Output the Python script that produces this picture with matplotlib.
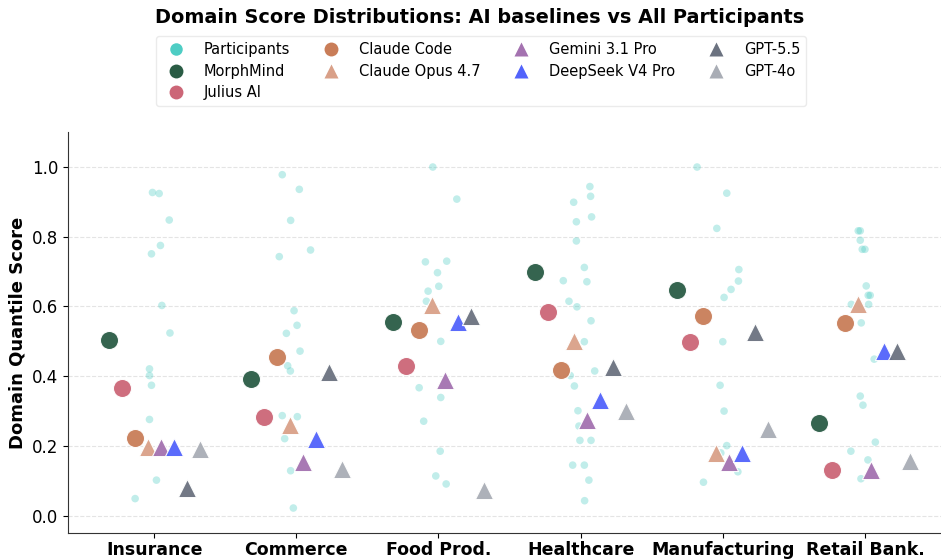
import matplotlib
matplotlib.use("Agg")
import matplotlib.pyplot as plt
from matplotlib.lines import Line2D

# ---------------- data ----------------
categories = ["Insurance", "Commerce", "Food Prod.", "Healthcare", "Manufacturing", "Retail Bank."]

model_names = ["MorphMind", "Julius AI", "Claude Code", "Claude Opus 4.7",
               "Gemini 3.1 Pro", "DeepSeek V4 Pro", "GPT-5.5", "GPT-4o"]

morphmind   = [0.504, 0.393, 0.556, 0.699, 0.648, 0.265]
julius_ai   = [0.365, 0.282, 0.429, 0.585, 0.499, 0.132]
claude_code = [0.223, 0.454, 0.533, 0.417, 0.574, 0.553]
claude_opus = [0.198, 0.261, 0.604, 0.501, 0.179, 0.606]
gemini      = [0.198, 0.153, 0.390, 0.274, 0.153, 0.132]
deepseek    = [0.198, 0.219, 0.556, 0.331, 0.179, 0.473]
gpt55       = [0.079, 0.413, 0.574, 0.426, 0.526, 0.473]
gpt4o       = [0.192, 0.134, 0.073, 0.299, 0.248, 0.158]

# participant scores per domain and their horizontal jitter
p_insurance = [0.927, 0.924, 0.848, 0.775, 0.751, 0.603, 0.524, 0.421, 0.402, 0.374, 0.276, 0.102, 0.049]
j_insurance = [-0.012, 0.035, 0.106, 0.044, -0.019, 0.054, 0.111, -0.033, -0.033, -0.019, -0.033, 0.016, -0.134]

p_commerce = [0.978, 0.936, 0.847, 0.762, 0.743, 0.588, 0.546, 0.523, 0.472, 0.430, 0.415, 0.287, 0.284, 0.221, 0.129, 0.022]
j_commerce = [-0.099, 0.021, -0.040, 0.100, -0.120, -0.016, 0.005, -0.070, 0.026, -0.061, -0.042, -0.099, 0.007, -0.082, -0.040, -0.021]

p_food = [1.000, 0.908, 0.728, 0.730, 0.697, 0.658, 0.644, 0.615, 0.500, 0.367, 0.339, 0.271, 0.185, 0.114, 0.091]
j_food = [-0.040, 0.129, -0.092, 0.058, -0.007, 0.002, -0.073, -0.085, 0.016, -0.136, 0.016, -0.104, 0.012, -0.019, 0.054]

p_health = [0.944, 0.916, 0.899, 0.857, 0.843, 0.788, 0.712, 0.674, 0.671, 0.615, 0.599, 0.559,
            0.499, 0.415, 0.402, 0.372, 0.301, 0.257, 0.216, 0.216, 0.145, 0.145, 0.102, 0.043]
j_health = [0.065, 0.070, -0.049, 0.077, -0.030, -0.030, 0.026, -0.122, 0.044, -0.082, -0.026, 0.073,
            0.026, 0.099, -0.073, -0.044, -0.019, -0.012, -0.005, 0.073, -0.056, 0.026, 0.058, 0.028]

p_manuf = [1.000, 0.925, 0.824, 0.706, 0.673, 0.649, 0.626, 0.499, 0.374, 0.300, 0.201, 0.180, 0.126, 0.096]
j_manuf = [-0.181, 0.028, -0.042, 0.113, 0.110, 0.058, 0.009, 0.000, -0.019, 0.009, 0.028, -0.014, 0.106, -0.136]

p_retail = [0.817, 0.817, 0.790, 0.764, 0.764, 0.659, 0.632, 0.632, 0.606, 0.606, 0.553, 0.449,
            0.343, 0.317, 0.211, 0.185, 0.160, 0.106]
j_retail = [-0.047, -0.033, -0.033, -0.019, 0.000, 0.009, 0.023, 0.037, -0.096, 0.026, -0.026, 0.065,
            -0.033, -0.014, 0.073, -0.099, 0.021, -0.028]

participants = [p_insurance, p_commerce, p_food, p_health, p_manuf, p_retail]
jitters = [j_insurance, j_commerce, j_food, j_health, j_manuf, j_retail]
model_scores = [morphmind, julius_ai, claude_code, claude_opus, gemini, deepseek, gpt55, gpt4o]

# ---------------- styles ----------------
part_color = "#4ECDC4"
model_colors = ["#2A5C45", "#CC6677", "#C97D58", "#D9A088",
                "#A472B0", "#5263FB", "#6B7280", "#A9ADB5"]
model_markers = ["o", "o", "o", "^", "^", "^", "^", "^"]
offsets = [(i - 3.5) * 0.0914 for i in range(len(model_names))]

fig = plt.figure(figsize=(9.41, 5.6), dpi=100)
ax = fig.add_axes([0.0723, 0.048, 0.9277, 0.716])

for i, (vals, jit) in enumerate(zip(participants, jitters)):
    ax.scatter([i + j for j in jit], vals, s=30, color=part_color, alpha=0.35,
               edgecolors="none", zorder=2)

for m, (name, scores) in enumerate(zip(model_names, model_scores)):
    xs = [i + offsets[m] for i in range(len(categories))]
    ax.scatter(xs, scores, s=170, marker=model_markers[m], color=model_colors[m],
               edgecolors="white", linewidths=0.8, alpha=0.95, zorder=3 + m)

ax.set_xlim(-0.606, 5.535)
ax.set_ylim(-0.05, 1.1)
ax.set_xticks(range(len(categories)))
ax.set_xticklabels(categories, fontsize=12.5, fontweight="bold")
ax.tick_params(axis="x", pad=2.5)
ax.set_yticks([0.0, 0.2, 0.4, 0.6, 0.8, 1.0])
ax.set_yticklabels(["0.0", "0.2", "0.4", "0.6", "0.8", "1.0"], fontsize=12)
ax.set_ylabel("Domain Quantile Score", fontsize=13, fontweight="bold")
ax.yaxis.grid(True, linestyle="--", color="#E4E4E4", linewidth=0.8)
ax.set_axisbelow(True)
for s in ["top", "right"]:
    ax.spines[s].set_visible(False)
for s in ["left", "bottom"]:
    ax.spines[s].set_color("#333333")

handles = [Line2D([], [], linestyle="none", marker="o", markersize=9,
                  markerfacecolor=part_color, markeredgecolor="none", label="Participants")]
for m, name in enumerate(model_names):
    handles.append(Line2D([], [], linestyle="none", marker=model_markers[m], markersize=10,
                          markerfacecolor=model_colors[m], markeredgecolor="none", label=name))

fig.legend(handles=handles, loc="upper center", bbox_to_anchor=(0.511, 0.948), ncol=4,
           fontsize=10.5, frameon=True, edgecolor="#E6E6E6", fancybox=True,
           handletextpad=0.9, columnspacing=1.8, labelspacing=0.45)

fig.suptitle("Domain Score Distributions: AI baselines vs All Participants",
             fontsize=13.9, fontweight="bold", x=0.51, y=0.985)

fig.savefig("out.png", dpi=100)
